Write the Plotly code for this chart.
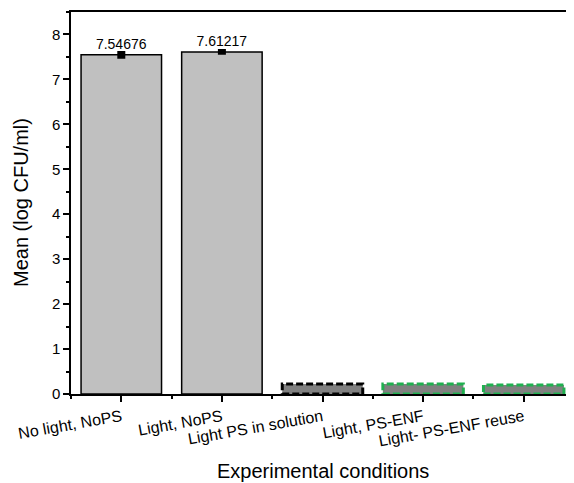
import plotly.graph_objects as go

categories = ["No light, NoPS", "Light, NoPS", "Light PS in solution", "Light, PS-ENF", "Light- PS-ENF reuse"]
means = [7.54676, 7.61217, 0.22, 0.22, 0.20]
errors = [0.04, 0.02, 0.0, 0.0, 0.0]
bar_labels = ["7.54676", "7.61217", "", "", ""]
fill_colors = ["#c0c0c0", "#c0c0c0", "#808080", "#808080", "#808080"]
outline_colors = ["#000000", "#000000", "#000000", "#1fb04f", "#1fb04f"]
dashed = [False, False, True, True, True]
x_title = "Experimental conditions"
y_title = "Mean (log CFU/ml)"

xpos = list(range(len(categories)))
BW = 0.8
FONT = "Liberation Sans, Arial"

fig = go.Figure()
solid = [i for i, d in enumerate(dashed) if not d]
dash_idx = [i for i, d in enumerate(dashed) if d]

fig.add_trace(go.Bar(
    x=[xpos[i] for i in solid], y=[means[i] for i in solid], width=BW,
    marker=dict(color=[fill_colors[i] for i in solid],
                line=dict(color=[outline_colors[i] for i in solid], width=1.5)),
    error_y=dict(type="data", array=[errors[i] for i in solid], visible=True,
                 color="black", thickness=4, width=4),
    text=[bar_labels[i] for i in solid], textposition="outside", cliponaxis=False,
    textfont=dict(family=FONT, size=14, color="black"),
    showlegend=False,
))
fig.add_trace(go.Bar(
    x=[xpos[i] for i in dash_idx], y=[means[i] for i in dash_idx], width=BW,
    marker=dict(color=[fill_colors[i] for i in dash_idx], line=dict(width=0)),
    showlegend=False,
))

for i in dash_idx:
    v, c = means[i], outline_colors[i]
    x0, x1 = xpos[i] - BW / 2, xpos[i] + BW / 2
    fig.add_trace(go.Scatter(
        x=[x0, x1, x1, x0, x0], y=[0, 0, v, v, 0], mode="lines",
        line=dict(color=c, width=3, dash="7px,3px"), showlegend=False, hoverinfo="skip",
    ))

# the page body has an 8px default margin; size the figure so the plot area
# lands where the reference has it
fig.update_layout(
    width=566, height=475,
    margin=dict(l=63, r=0, t=4, b=89),
    plot_bgcolor="white", paper_bgcolor="white",
    font=dict(family=FONT, size=15, color="black"),
    barmode="overlay",
    annotations=[
        dict(text=x_title, xref="paper", yref="paper", x=0.5, y=0, xanchor="center",
             yanchor="middle", yshift=-77, showarrow=False, font=dict(size=20)),
        dict(text=y_title, xref="paper", yref="paper", x=0, y=0.5, xanchor="center",
             yanchor="middle", xshift=-50, textangle=-90, showarrow=False, font=dict(size=20)),
    ],
)
fig.update_xaxes(
    range=[-0.5, 4.5], tickmode="array", tickvals=xpos, ticktext=categories,
    tickangle=-10, ticks="outside", ticklen=6, tickwidth=1.5, tickcolor="black",
    showline=True, linecolor="black", linewidth=1.5, mirror=True, showgrid=False, zeroline=False,
    minor=dict(ticks="outside", tick0=0.5, dtick=1, ticklen=3, tickwidth=1.5, tickcolor="black"),
    tickfont=dict(size=16), automargin=False,
)
fig.update_yaxes(
    range=[0, 8.5], dtick=1, ticks="outside", ticklen=6, tickwidth=1.5, tickcolor="black",
    showline=True, linecolor="black", linewidth=1.5, showgrid=False, zeroline=False,
    minor=dict(ticks="outside", dtick=0.5, ticklen=3, tickwidth=1.5, tickcolor="black"),
    tickfont=dict(size=15), automargin=False,
)

fig.write_html("out.html")
